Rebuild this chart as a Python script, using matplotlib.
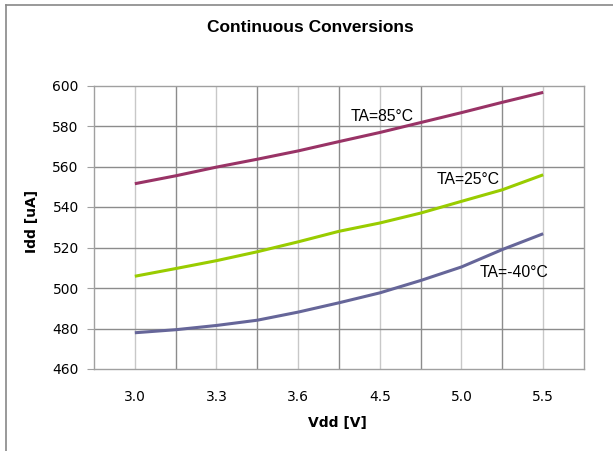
import numpy as np
import matplotlib
matplotlib.use("Agg")
import matplotlib.pyplot as plt
from matplotlib.lines import Line2D

# -----------------------------
# DATA
# -----------------------------
vdd_labels = ["3.0", "3.3", "3.6", "4.5", "5.0", "5.5"]
# samples at every half category step, from 3.0 to 5.5
idd_85 = [551.5, 555.4, 559.7, 563.6, 567.7, 572.3, 576.8, 581.7, 586.6, 591.7, 596.6]
idd_25 = [505.8, 509.6, 513.5, 517.9, 522.8, 528.0, 532.1, 537.0, 542.8, 548.5, 555.9]
idd_m40 = [477.9, 479.4, 481.5, 484.1, 488.1, 492.7, 497.6, 503.7, 510.4, 519.0, 526.8]
series_names = ["TA=85°C", "TA=25°C", "TA=-40°C"]

# -----------------------------
# PLOT
# -----------------------------
fig = plt.figure(figsize=(6.13, 4.51), dpi=100)
ax = fig.add_axes([94 / 613, 1 - 369 / 451, 490 / 613, 283.5 / 451])

x = np.arange(len(idd_85))
ax.plot(x, idd_85, color="#993366", lw=2.2, solid_capstyle="butt")
ax.plot(x, idd_25, color="#99cc00", lw=2.2, solid_capstyle="butt")
ax.plot(x, idd_m40, color="#666699", lw=2.2, solid_capstyle="butt")

ax.set_xlim(-1, len(x))
ax.set_ylim(460, 600)

# gridlines: light at the labelled values, darker in between
for xv in range(0, len(x), 2):
    ax.axvline(xv, color="#c8c8c8", lw=1, zorder=0)
for xv in range(1, len(x), 2):
    ax.axvline(xv, color="#8c8c8c", lw=1, zorder=0)
for yv in range(480, 600, 20):
    ax.axhline(yv, color="#8c8c8c", lw=1, zorder=0)

ax.set_xticks(np.arange(0, len(x), 2))
ax.set_xticklabels(vdd_labels)
ax.set_yticks(np.arange(460, 601, 20))
ax.tick_params(axis="x", length=0, pad=15, labelsize=10)
ax.tick_params(axis="y", length=5, color="#a0a0a0", pad=6, labelsize=10)
for s in ax.spines.values():
    s.set_color("#a0a0a0")
    s.set_linewidth(1)

ax.text(5.29, 584.6, series_names[0], fontsize=11.3, family="Liberation Sans", va="center")
ax.text(7.38, 553.8, series_names[1], fontsize=11.3, family="Liberation Sans", va="center")
ax.text(8.44, 507.8, series_names[2], fontsize=11.3, family="Liberation Sans", va="center")

fig.text(310 / 613, 1 - 28 / 451, "Continuous Conversions", ha="center", va="center",
         fontsize=12.5, fontweight="bold", family="Liberation Sans")
fig.text(337 / 613, 1 - 423 / 451, "Vdd [V]", ha="center", va="center",
         fontsize=10, fontweight="bold")
fig.text(31.5 / 613, 1 - 221.5 / 451, "Idd [uA]", ha="center", va="center",
         rotation=90, fontsize=10, fontweight="bold")

# outer chart frame (only left and top edges visible)
fig.add_artist(Line2D([6 / 613, 6 / 613], [0, 1 - 5 / 451], transform=fig.transFigure,
                      color="#888888", lw=1.2))
fig.add_artist(Line2D([6 / 613, 1], [1 - 5 / 451, 1 - 5 / 451], transform=fig.transFigure,
                      color="#888888", lw=1.2))

fig.savefig("out.png", dpi=100)
